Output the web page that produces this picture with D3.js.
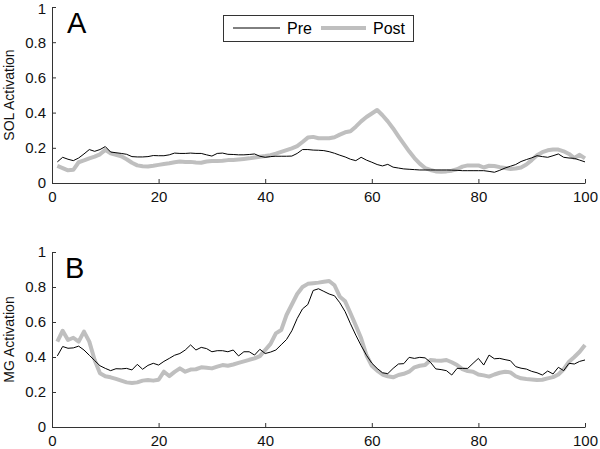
<!DOCTYPE html>
<html><head><meta charset="utf-8">
<script src="https://cdn.jsdelivr.net/npm/d3@7"></script>
<style>body{margin:0;background:#fff}svg{display:block}text{font-family:"Liberation Sans",Arial,sans-serif}</style>
</head><body><svg id="c" width="600" height="449"></svg>
<script>
const xTicks=[0,20,40,60,80,100];
const yTicks=[0,0.2,0.4,0.6,0.8,1];
const yTickLabels=["0","0.2","0.4","0.6","0.8","1"];
const seriesNames=["Pre","Post"];
const panelLetters=["A","B"];
const yTitles=["SOL Activation","MG Activation"];
const solPre=[0.12,0.146,0.135,0.127,0.142,0.165,0.19,0.18,0.19,0.207,0.176,0.172,0.168,0.163,0.15,0.148,0.148,0.15,0.156,0.155,0.155,0.16,0.17,0.168,0.168,0.17,0.168,0.168,0.16,0.153,0.168,0.17,0.163,0.162,0.16,0.16,0.162,0.165,0.152,0.146,0.15,0.152,0.152,0.152,0.153,0.168,0.19,0.19,0.187,0.186,0.184,0.178,0.169,0.158,0.148,0.135,0.127,0.146,0.13,0.118,0.105,0.097,0.106,0.09,0.085,0.08,0.078,0.076,0.074,0.074,0.074,0.074,0.074,0.074,0.073,0.072,0.07,0.07,0.07,0.07,0.07,0.066,0.061,0.072,0.085,0.095,0.105,0.122,0.133,0.143,0.155,0.15,0.146,0.155,0.165,0.146,0.142,0.14,0.13,0.12];
const solPost=[0.097,0.085,0.072,0.075,0.118,0.128,0.14,0.15,0.163,0.188,0.168,0.16,0.152,0.135,0.115,0.1,0.095,0.094,0.098,0.103,0.108,0.112,0.118,0.122,0.12,0.12,0.117,0.115,0.122,0.125,0.125,0.126,0.13,0.131,0.134,0.137,0.14,0.145,0.149,0.153,0.158,0.167,0.177,0.187,0.197,0.21,0.233,0.258,0.262,0.254,0.254,0.254,0.26,0.275,0.288,0.294,0.32,0.35,0.375,0.395,0.415,0.385,0.35,0.31,0.265,0.222,0.18,0.142,0.11,0.085,0.074,0.066,0.064,0.066,0.07,0.078,0.093,0.1,0.1,0.1,0.088,0.098,0.097,0.09,0.085,0.08,0.082,0.088,0.105,0.13,0.158,0.175,0.186,0.19,0.19,0.18,0.165,0.142,0.16,0.14];
const mgPre=[0.406,0.46,0.45,0.452,0.462,0.44,0.41,0.38,0.35,0.335,0.322,0.333,0.332,0.335,0.326,0.358,0.33,0.352,0.364,0.354,0.375,0.392,0.41,0.42,0.44,0.469,0.44,0.455,0.448,0.43,0.436,0.436,0.43,0.44,0.406,0.43,0.43,0.411,0.444,0.42,0.428,0.44,0.47,0.5,0.55,0.62,0.675,0.7,0.78,0.79,0.775,0.76,0.75,0.71,0.659,0.59,0.525,0.465,0.41,0.365,0.335,0.31,0.305,0.335,0.36,0.362,0.398,0.392,0.398,0.395,0.37,0.332,0.328,0.322,0.297,0.335,0.335,0.335,0.364,0.392,0.354,0.411,0.39,0.392,0.385,0.379,0.345,0.336,0.331,0.318,0.31,0.297,0.32,0.303,0.341,0.322,0.364,0.36,0.375,0.383];
const mgPost=[0.488,0.55,0.497,0.51,0.488,0.545,0.488,0.383,0.307,0.29,0.284,0.275,0.265,0.255,0.252,0.255,0.265,0.268,0.265,0.27,0.316,0.291,0.315,0.335,0.316,0.328,0.33,0.341,0.338,0.335,0.345,0.354,0.35,0.357,0.366,0.375,0.384,0.392,0.405,0.44,0.475,0.535,0.554,0.64,0.7,0.76,0.8,0.818,0.822,0.825,0.83,0.834,0.81,0.745,0.718,0.65,0.58,0.507,0.41,0.35,0.322,0.3,0.29,0.284,0.297,0.304,0.316,0.341,0.35,0.354,0.383,0.38,0.379,0.383,0.37,0.354,0.331,0.32,0.316,0.3,0.295,0.288,0.3,0.31,0.316,0.312,0.29,0.278,0.274,0.272,0.268,0.27,0.278,0.285,0.3,0.33,0.373,0.4,0.43,0.469];

const svg=d3.select("#c");
const x=d3.scaleLinear().domain([0,100]).range([52,585]);
const panels=[
  {pre:solPre,post:solPost,top:7,bottom:183,letter:panelLetters[0],title:yTitles[0],legend:true,first:true},
  {pre:mgPre,post:mgPost,top:252,bottom:427,letter:panelLetters[1],title:yTitles[1],legend:false,first:false}
];
const axisCol="#333";
panels.forEach(p=>{
  const y=d3.scaleLinear().domain([0,1]).range([p.bottom,p.top]);
  const g=svg.append("g");
  const xa=g.append("g").attr("transform",`translate(0,${p.bottom})`)
    .call(d3.axisBottom(x).tickValues(xTicks).tickSizeInner(-4).tickSizeOuter(0).tickPadding(8));
  xa.select(".domain").attr("stroke",axisCol);
  xa.selectAll(".tick line").attr("stroke",axisCol);
  xa.selectAll("text").attr("font-size",15).attr("fill","#111");
  const ya=g.append("g").attr("transform",`translate(52,0)`)
    .call(d3.axisLeft(y).tickValues(yTicks).tickFormat((d,i)=>yTickLabels[i]).tickSizeInner(-4).tickSizeOuter(0).tickPadding(6));
  ya.select(".domain").attr("stroke",axisCol);
  ya.selectAll(".tick line").attr("stroke",axisCol);
  ya.selectAll("text").attr("font-size",15).attr("fill","#111");
  if(p.first) ya.selectAll("text").filter(d=>d===1).attr("dy","0.45em");
  g.append("text").attr("transform",`translate(14,${(p.top+p.bottom)/2}) rotate(-90)`)
    .attr("text-anchor","middle").attr("font-size",14).attr("fill","#111").text(p.title);
  g.append("text").attr("x",p.letter==="A"?67:65).attr("y",p.top+26).attr("font-size",29).attr("fill","#000").text(p.letter);
  const line=d3.line().x((d,i)=>x(i+1)).y(d=>y(d));
  g.append("path").datum(p.post).attr("d",line).attr("fill","none").attr("stroke","#bfbfbf").attr("stroke-width",4).attr("stroke-linejoin","round");
  g.append("path").datum(p.pre).attr("d",line).attr("fill","none").attr("stroke","#000").attr("stroke-width",1);
  if(p.legend){
    const lg=g.append("g");
    lg.append("rect").attr("x",223.5).attr("y",15.5).attr("width",190).attr("height",26).attr("fill","#fff").attr("stroke","#333");
    lg.append("line").attr("x1",233).attr("x2",280).attr("y1",28).attr("y2",28).attr("stroke","#000").attr("stroke-width",1);
    lg.append("text").attr("x",287).attr("y",34).attr("font-size",16).text(seriesNames[0]);
    lg.append("line").attr("x1",321).attr("x2",366).attr("y1",28).attr("y2",28).attr("stroke","#bfbfbf").attr("stroke-width",4);
    lg.append("text").attr("x",373).attr("y",34).attr("font-size",16).text(seriesNames[1]);
  }
});
</script></body></html>
